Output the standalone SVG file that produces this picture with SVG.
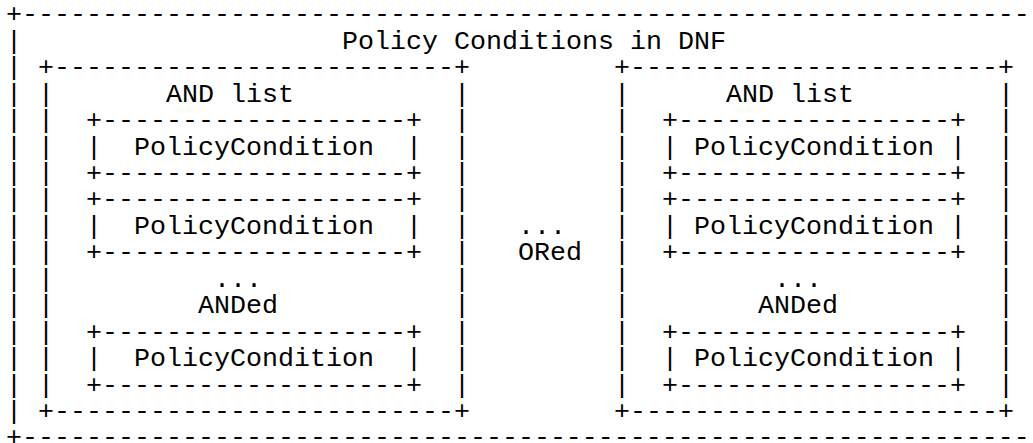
<svg xmlns="http://www.w3.org/2000/svg" width="1033" height="443" viewBox="0 0 1033 443">
<style>
text{font-family:"Liberation Mono","Courier New",monospace;font-size:26.667px;fill:#000}
</style>
<rect x="0" y="0" width="1033" height="443" fill="#fff"/>
<g id="outer-box">
<text x="6" y="22.4">+---------------------------------------------------------------</text>
<text x="6 6 6 6 6 6 6 6 6 6 6 6 6 6 6" y="48.84 75.28 101.72 128.16 154.6 181.04 207.48 233.92 260.36 286.8 313.24 339.68 366.12 392.56 419">|||||||||||||||</text>
<text x="6" y="445.44">+---------------------------------------------------------------</text>
<text x="342" y="48.84">Policy Conditions in DNF</text>
</g>
<g id="and-list-left">
<text x="38" y="75.28">+-------------------------+</text>
<text x="38 38 38 38 38 38 38 38 38 38 38 38" y="101.72 128.16 154.6 181.04 207.48 233.92 260.36 286.8 313.24 339.68 366.12 392.56">||||||||||||</text>
<text x="454 454 454 454 454 454 454 454 454 454 454 454" y="101.72 128.16 154.6 181.04 207.48 233.92 260.36 286.8 313.24 339.68 366.12 392.56">||||||||||||</text>
<text x="38" y="419">+-------------------------+</text>
<text x="166" y="101.72">AND list</text>
<text x="214" y="286.8">...</text>
<text x="198" y="313.24">ANDed</text>
</g>
<g id="cond-left-1">
<text x="86" y="128.16">+-------------------+</text>
<text x="86" y="154.6">|</text><text x="134" y="154.6">PolicyCondition</text><text x="406" y="154.6">|</text>
<text x="86" y="181.04">+-------------------+</text>
</g>
<g id="cond-left-2">
<text x="86" y="207.48">+-------------------+</text>
<text x="86" y="233.92">|</text><text x="134" y="233.92">PolicyCondition</text><text x="406" y="233.92">|</text>
<text x="86" y="260.36">+-------------------+</text>
</g>
<g id="cond-left-3">
<text x="86" y="339.68">+-------------------+</text>
<text x="86" y="366.12">|</text><text x="134" y="366.12">PolicyCondition</text><text x="406" y="366.12">|</text>
<text x="86" y="392.56">+-------------------+</text>
</g>
<g id="and-list-right">
<text x="614" y="75.28">+-----------------------+</text>
<text x="614 614 614 614 614 614 614 614 614 614 614 614" y="101.72 128.16 154.6 181.04 207.48 233.92 260.36 286.8 313.24 339.68 366.12 392.56">||||||||||||</text>
<text x="998 998 998 998 998 998 998 998 998 998 998 998" y="101.72 128.16 154.6 181.04 207.48 233.92 260.36 286.8 313.24 339.68 366.12 392.56">||||||||||||</text>
<text x="614" y="419">+-----------------------+</text>
<text x="726" y="101.72">AND list</text>
<text x="774" y="286.8">...</text>
<text x="758" y="313.24">ANDed</text>
</g>
<g id="cond-right-1">
<text x="662" y="128.16">+-----------------+</text>
<text x="662" y="154.6">|</text><text x="694" y="154.6">PolicyCondition</text><text x="950" y="154.6">|</text>
<text x="662" y="181.04">+-----------------+</text>
</g>
<g id="cond-right-2">
<text x="662" y="207.48">+-----------------+</text>
<text x="662" y="233.92">|</text><text x="694" y="233.92">PolicyCondition</text><text x="950" y="233.92">|</text>
<text x="662" y="260.36">+-----------------+</text>
</g>
<g id="cond-right-3">
<text x="662" y="339.68">+-----------------+</text>
<text x="662" y="366.12">|</text><text x="694" y="366.12">PolicyCondition</text><text x="950" y="366.12">|</text>
<text x="662" y="392.56">+-----------------+</text>
</g>
<g id="connectors">
<text x="518" y="233.92">...</text>
<text x="518" y="260.36">ORed</text>
</g>
</svg>
